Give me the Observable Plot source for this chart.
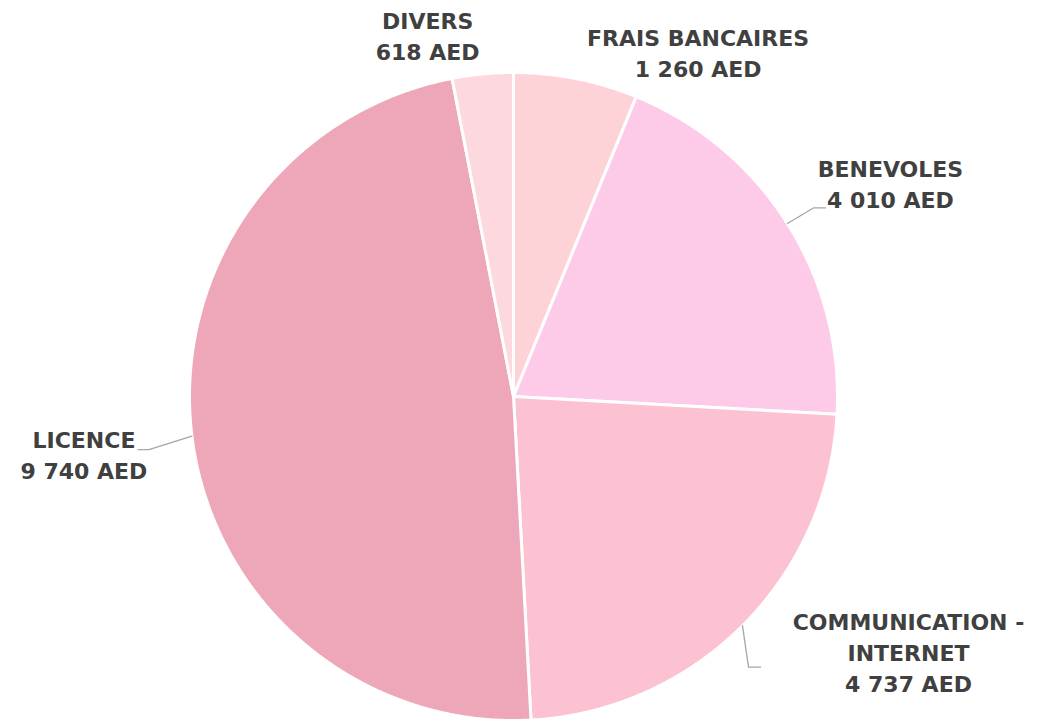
<!DOCTYPE html>
<html>
<head>
<meta charset="utf-8">
<script src="https://cdn.jsdelivr.net/npm/d3@7"></script>
<script src="https://cdn.jsdelivr.net/npm/@observablehq/plot@0.6"></script>
<style>
  html, body { margin: 0; padding: 0; background: #ffffff; }
  #chart { width: 1044px; height: 721px; }
</style>
</head>
<body>
<div id="chart"></div>
<script>
// ---- data ----
const categories = ["FRAIS BANCAIRES", "BENEVOLES", "COMMUNICATION -\nINTERNET", "LICENCE", "DIVERS"];
const values = [1260, 4010, 4737, 9740, 618];
const unit = "AED";
const sliceColors = ["#fdd3d7", "#fdcbe8", "#fcc2d1", "#eda7b8", "#fdd8de"];

// ---- layout (pixels) ----
const W = 1044, H = 721;
const R = 324;            // pie radius in px
const CX = 513, CY = 396; // pie centre in px
// label block centre offset (px) from the slice's outer mid point
const labelDx = [122, 103, 166, -108, -55];
const labelDy = [-27, -41, 25, 18, -39];
// leader line: [elbow dx, elbow dy, end dx, end dy] in px relative to label centre (null = no leader)
const leaders = [null, [-77, 25.5, -65, 25.5], [-160, 16.5, -148, 16.5], [65, -4.5, 54, -4.5], null];

const fmt = d3.formatLocale({decimal: ",", thousands: " ", grouping: [3], currency: ["", ""]}).format(",d");

const arcs = d3.pie().sort(null).startAngle(0).endAngle(2 * Math.PI)(values);

// slice polygons (unit radius, y up)
const slicePts = [];
arcs.forEach((a, i) => {
  slicePts.push({k: i, x: 0, y: 0, color: sliceColors[i]});
  const n = Math.max(2, Math.ceil((a.endAngle - a.startAngle) / (Math.PI / 360)));
  for (let j = 0; j <= n; j++) {
    const t = a.startAngle + (a.endAngle - a.startAngle) * j / n;
    slicePts.push({k: i, x: Math.sin(t), y: Math.cos(t), color: sliceColors[i]});
  }
  slicePts.push({k: i, x: 0, y: 0, color: sliceColors[i]});
});

const labels = arcs.map((a, i) => {
  const m = (a.startAngle + a.endAngle) / 2;
  const ox = Math.sin(m), oy = Math.cos(m);
  return {
    ox, oy,
    x: ox + labelDx[i] / R,
    y: oy - labelDy[i] / R,
    text: categories[i] + "\n" + fmt(values[i]) + " " + unit
  };
});

const leaderPts = [];
labels.forEach((l, i) => {
  const L = leaders[i];
  if (!L) return;
  leaderPts.push({k: i, x: l.ox, y: l.oy});
  leaderPts.push({k: i, x: l.x + L[0] / R, y: l.y - L[1] / R});
  leaderPts.push({k: i, x: l.x + L[2] / R, y: l.y - L[3] / R});
});

const chart = Plot.plot({
  width: W,
  height: H,
  margin: 0,
  x: {domain: [-CX / R, (W - CX) / R], axis: null},
  y: {domain: [-(H - CY) / R, CY / R], axis: null},
  color: {type: "identity"},
  style: {background: "#ffffff", fontFamily: "'DejaVu Sans', sans-serif"},
  marks: [
    Plot.line(slicePts, {x: "x", y: "y", z: "k", fill: "color", stroke: "#ffffff", strokeWidth: 3, strokeLinejoin: "miter"}),
    Plot.line(leaderPts, {x: "x", y: "y", z: "k", stroke: "#a6a6a6", strokeWidth: 1.3}),
    Plot.text(labels, {
      x: "x", y: "y", text: "text",
      fontSize: 22, fontWeight: "bold", fill: "#404040",
      lineHeight: 1.41, textAnchor: "middle"
    })
  ]
});
document.getElementById("chart").appendChild(chart);
</script>
</body>
</html>
